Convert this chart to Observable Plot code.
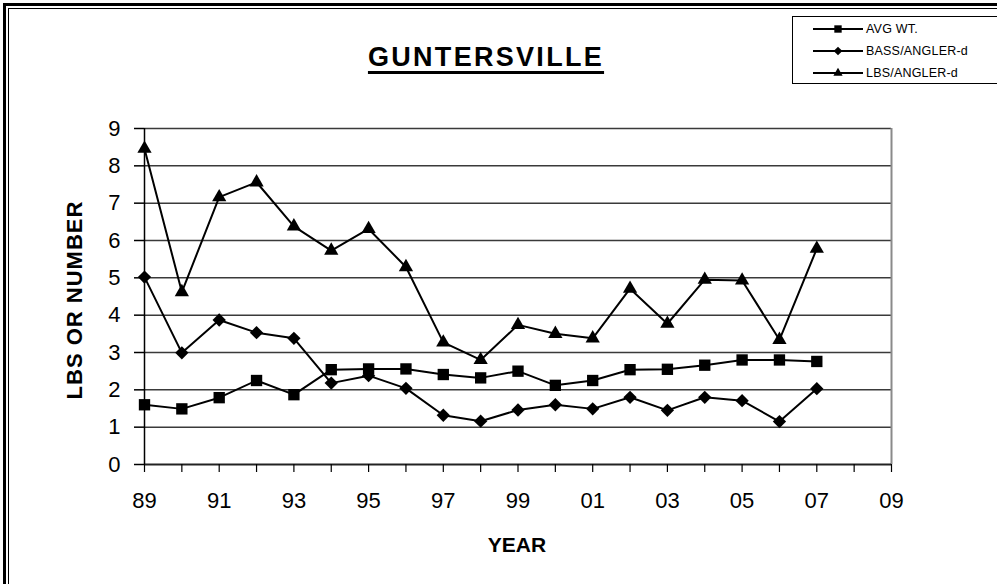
<!DOCTYPE html>
<html>
<head>
<meta charset="utf-8">
<script src="https://cdn.jsdelivr.net/npm/d3@7"></script>
<script src="https://cdn.jsdelivr.net/npm/@observablehq/plot@0.6"></script>
<style>
  html, body { margin: 0; padding: 0; background: #fff; }
  #wrap { position: relative; width: 997px; height: 584px; overflow: hidden; font-family: "Liberation Sans", Arial, sans-serif; color: #000; }
  #chart { position: absolute; left: 0; top: 0; }
  .abs { position: absolute; white-space: nowrap; }
</style>
</head>
<body>
<div id="wrap">
  <div class="abs" style="left:3px;top:3px;width:1000px;height:600px;border-left:3px solid #000;border-top:3px solid #000;"></div>
  <div class="abs" style="left:8px;top:8px;width:1000px;height:600px;border-left:1px solid #000;border-top:1px solid #000;"></div>
  <div id="chart"></div>
  <div id="title" class="abs" style="left:486px;top:44px;transform:translateX(-50%);font-size:27px;line-height:27px;letter-spacing:2.3px;font-weight:bold;text-decoration:underline;text-decoration-thickness:3px;text-underline-offset:5px;"></div>
  <div id="ylab" class="abs" style="left:75px;top:300px;transform:translate(-50%,-50%) rotate(-90deg);font-size:22px;letter-spacing:1px;font-weight:bold;"></div>
  <div id="xlab" class="abs" style="left:517px;top:545px;transform:translate(-50%,-50%);font-size:21px;font-weight:bold;"></div>
  <div id="legend" class="abs" style="left:792px;top:16px;width:220px;height:66px;border:1px solid #000;background:#fff;"></div>
</div>
<script>
// ---- data ----
const titleText = "GUNTERSVILLE";
const yLabel = "LBS OR NUMBER";
const xLabel = "YEAR";
const years = [1989, 1990, 1991, 1992, 1993, 1994, 1995, 1996, 1997, 1998, 1999, 2000, 2001, 2002, 2003, 2004, 2005, 2006, 2007];
const avgWt = [1.60, 1.49, 1.79, 2.25, 1.87, 2.54, 2.56, 2.56, 2.41, 2.32, 2.50, 2.12, 2.25, 2.54, 2.55, 2.66, 2.80, 2.80, 2.76];
const bassPerAngler = [5.02, 2.99, 3.87, 3.53, 3.38, 2.18, 2.38, 2.04, 1.32, 1.16, 1.46, 1.60, 1.49, 1.80, 1.45, 1.80, 1.71, 1.15, 2.03];
const lbsPerAngler = [8.46, 4.62, 7.16, 7.56, 6.38, 5.73, 6.31, 5.29, 3.27, 2.80, 3.74, 3.50, 3.38, 4.71, 3.77, 4.95, 4.93, 3.34, 5.78];
const seriesNames = ["AVG WT.", "BASS/ANGLER-d", "LBS/ANGLER-d"];
const seriesSymbols = ["square", "diamond2", "triangle"];
const xMinorTicks = [1989, 1990, 1991, 1992, 1993, 1994, 1995, 1996, 1997, 1998, 1999, 2000, 2001, 2002, 2003, 2004, 2005, 2006, 2007, 2008, 2009];
const xLabelTicks = [1989, 1991, 1993, 1995, 1997, 1999, 2001, 2003, 2005, 2007, 2009];
const xTickLabels = ["89", "91", "93", "95", "97", "99", "01", "03", "05", "07", "09"];
const yTicks = [0, 1, 2, 3, 4, 5, 6, 7, 8, 9];
const gridValues = [1, 2, 3, 4, 5, 6, 7, 8, 9];

// ---- build ----
const seriesValues = [avgWt, bassPerAngler, lbsPerAngler];
const symbolSize = {square: 6.4, diamond2: 6.0, triangle: 5.3};
const rows = [];
seriesNames.forEach((name, s) => {
  years.forEach((yr, i) => rows.push({series: name, year: yr, value: seriesValues[s][i], symbol: seriesSymbols[s]}));
});

const seriesMarks = seriesNames.flatMap((name, s) => {
  const data = rows.filter(r => r.series === name);
  return [
    Plot.line(data, {x: "year", y: "value", stroke: "#000", strokeWidth: 2}),
    Plot.dot(data, {x: "year", y: "value", symbol: seriesSymbols[s], r: symbolSize[seriesSymbols[s]], fill: "#000", stroke: "none"})
  ];
});

const chart = Plot.plot({
  width: 997,
  height: 584,
  marginLeft: 144,
  marginRight: 106,
  marginTop: 128,
  marginBottom: 120,
  x: {domain: [1989, 2009]},
  y: {domain: [0, 9]},
  style: {fontFamily: "'Liberation Sans', Arial, sans-serif", fontSize: "22px", background: "transparent", color: "#000"},
  marks: [
    Plot.ruleY(gridValues, {stroke: "#3a3a3a", strokeWidth: 1.5}),
    Plot.ruleX([2009], {stroke: "#8a8a8a", strokeWidth: 2}),
    Plot.ruleY([0], {stroke: "#222", strokeWidth: 2}),
    Plot.ruleX([1989], {stroke: "#000", strokeWidth: 1.5}),
    Plot.axisY({ticks: yTicks, tickSize: 10, tickPadding: 14, fontSize: 22, label: null, strokeWidth: 1.5}),
    Plot.axisX({ticks: xMinorTicks, tickSize: 8, tickFormat: () => "", label: null, strokeWidth: 1.2}),
    Plot.axisX({ticks: xLabelTicks, tickSize: 0, tickPadding: 28, fontSize: 22, label: null,
      tickFormat: d => xTickLabels[xLabelTicks.indexOf(d)]}),
    ...seriesMarks
  ]
});
document.getElementById("chart").appendChild(chart);

document.getElementById("title").textContent = titleText;
document.getElementById("ylab").textContent = yLabel;
document.getElementById("xlab").textContent = xLabel;

// legend
const legendRowY = [12, 34, 56];
const leg = d3.select("#legend");
const symGen = {square: d3.symbolSquare, diamond2: d3.symbolDiamond2, triangle: d3.symbolTriangle};
seriesNames.forEach((name, i) => {
  const row = leg.append("div").style("position", "absolute").style("left", "19px").style("top", (legendRowY[i] - 8) + "px")
    .style("height", "16px").style("display", "flex").style("align-items", "center");
  const svg = row.append("svg").attr("width", 52).attr("height", 16);
  svg.append("line").attr("x1", 1).attr("x2", 51).attr("y1", 8).attr("y2", 8).attr("stroke", "#000").attr("stroke-width", 2);
  const r = symbolSize[seriesSymbols[i]] * 0.65;
  svg.append("path").attr("transform", "translate(26,8)")
    .attr("d", d3.symbol(symGen[seriesSymbols[i]], Math.PI * r * r)());
  row.append("span").text(name).style("font-size", "12.5px").style("margin-left", "2px").style("letter-spacing", "0.2px");
});
</script>
</body>
</html>
